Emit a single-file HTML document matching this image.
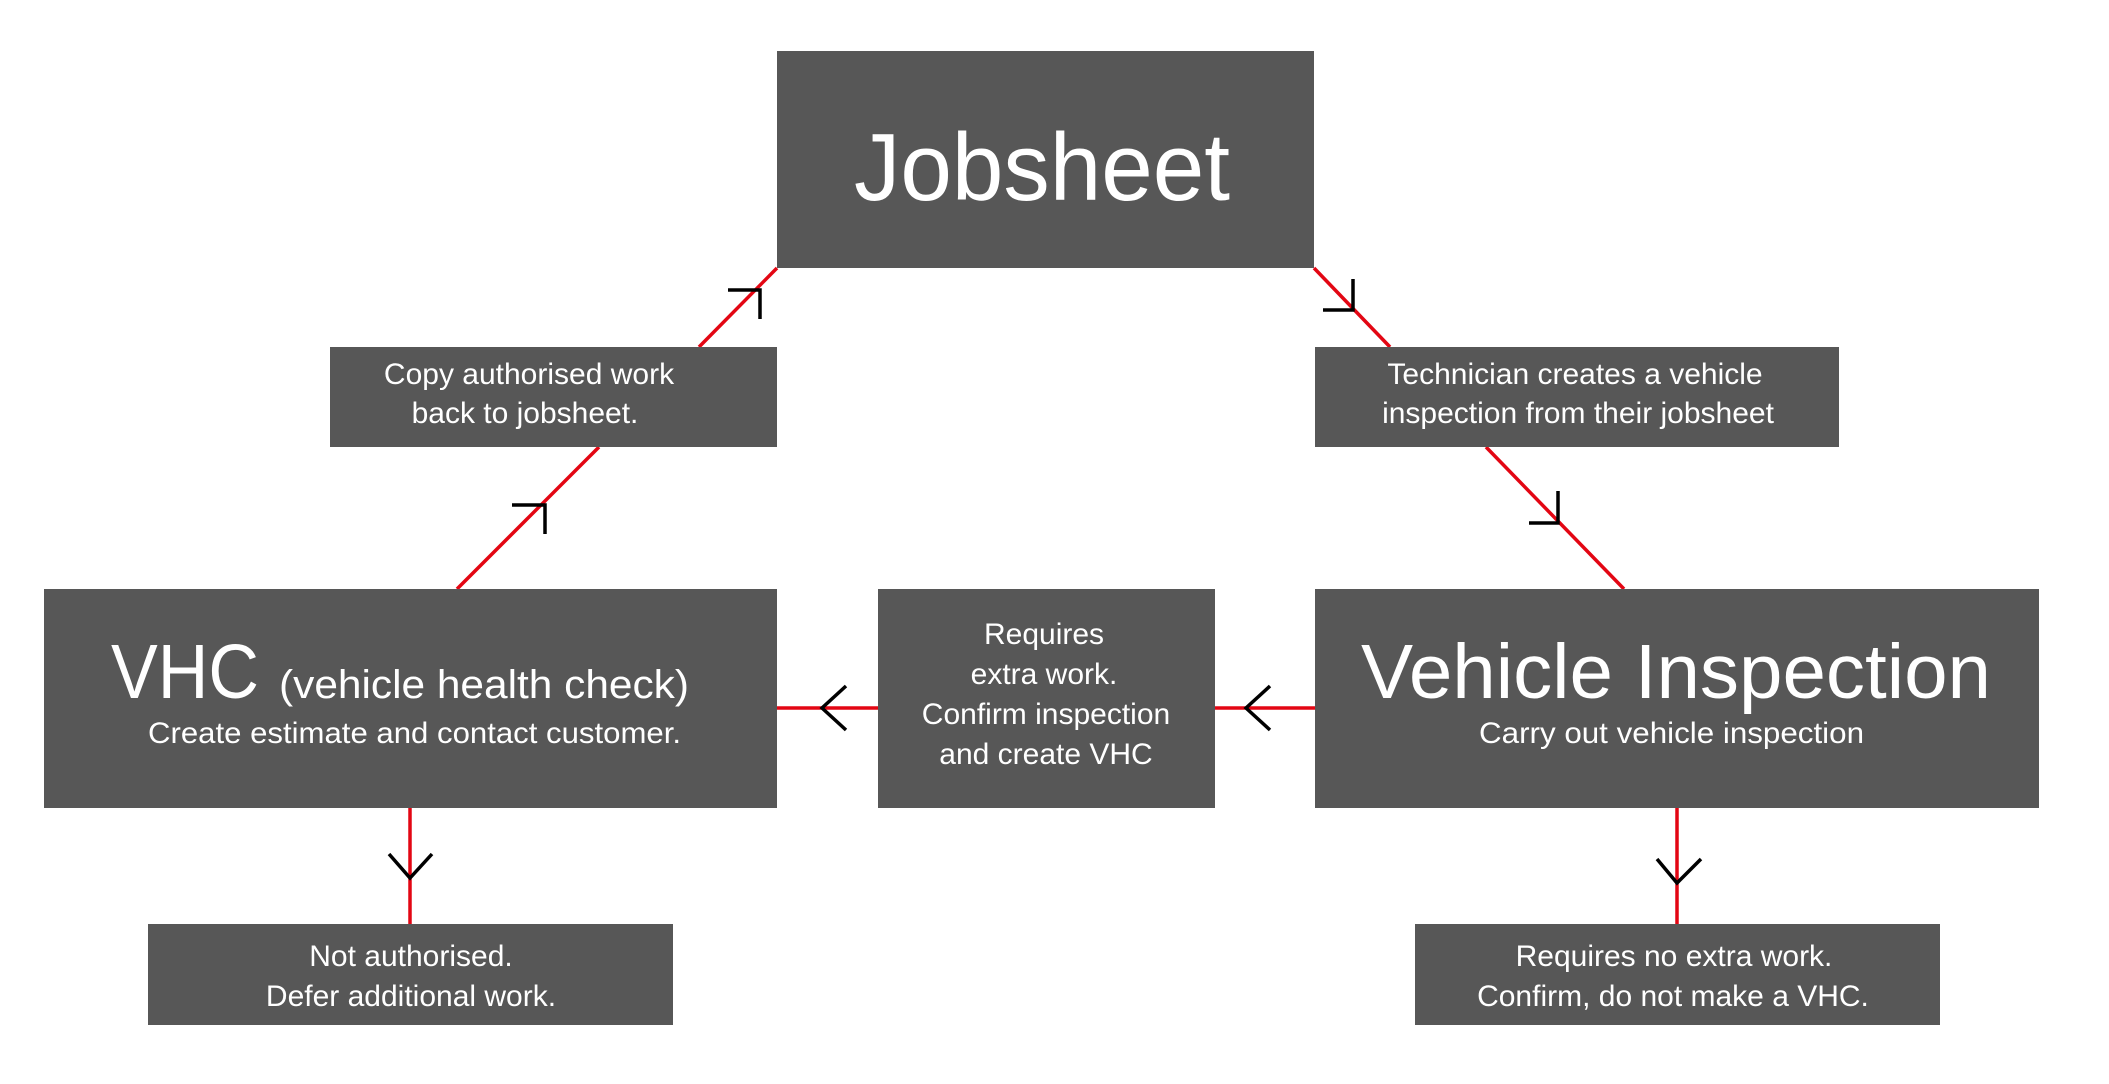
<!DOCTYPE html>
<html><head><meta charset="utf-8"><style>
html,body{margin:0;padding:0;background:#fff;}
svg{display:block;}
text{font-family:"Liberation Sans",sans-serif;fill:#fff;}
</style></head><body>
<svg width="2109" height="1084" viewBox="0 0 2109 1084" xmlns="http://www.w3.org/2000/svg">
<g stroke="#e30613" stroke-width="3.5" fill="none">
<line x1="777" y1="268" x2="699" y2="347"/>
<line x1="599" y1="447" x2="457" y2="589"/>
<line x1="1314" y1="268" x2="1390" y2="347"/>
<line x1="1486" y1="447" x2="1624" y2="589"/>
<line x1="1315" y1="708" x2="1215" y2="708"/>
<line x1="878" y1="708" x2="777" y2="708"/>
<line x1="410" y1="808" x2="410" y2="924"/>
<line x1="1677" y1="808" x2="1677" y2="924"/>
</g>
<g stroke="#000" stroke-width="3.5" fill="none">
<polyline points="728,290 760,290 760,319"/>
<polyline points="512,505 545,505 545,534"/>
<polyline points="1353,279 1353,310 1323,310"/>
<polyline points="1558,491 1558,523 1529,523"/>
<polyline points="1270,686 1246,708 1270,730"/>
<polyline points="846,686 822,708 846,730"/>
<polyline points="389,854 410,878 432,854"/>
<polyline points="1657,859 1677,883 1701,859"/>
</g>
<g fill="#575757">
<rect x="777" y="51" width="537" height="217"/>
<rect x="330" y="347" width="447" height="100"/>
<rect x="1315" y="347" width="524" height="100"/>
<rect x="44" y="589" width="733" height="219"/>
<rect x="878" y="589" width="337" height="219"/>
<rect x="1315" y="589" width="724" height="219"/>
<rect x="148" y="924" width="525" height="101"/>
<rect x="1415" y="924" width="525" height="101"/>
</g>
<text x="854" y="200" font-size="96" textLength="376" lengthAdjust="spacingAndGlyphs">Jobsheet</text>
<g font-size="30" text-anchor="middle">
<text x="529" y="384">Copy authorised work</text>
<text x="525" y="423">back to jobsheet.</text>
<text x="1575" y="384">Technician creates a vehicle</text>
<text x="1578" y="423">inspection from their jobsheet</text>
<text x="1044" y="644">Requires</text>
<text x="1044" y="684">extra work.</text>
<text x="1046" y="724">Confirm inspection</text>
<text x="1046" y="764">and create VHC</text>
<text x="411" y="966">Not authorised.</text>
<text x="411" y="1006">Defer additional work.</text>
<text x="1674" y="966">Requires no extra work.</text>
<text x="1673" y="1006">Confirm, do not make a VHC.</text>
</g>
<text x="111" y="698" font-size="77" textLength="148" lengthAdjust="spacingAndGlyphs">VHC</text>
<text x="279" y="698" font-size="40" textLength="410" lengthAdjust="spacingAndGlyphs">(vehicle health check)</text>
<text x="148" y="743" font-size="30" textLength="533" lengthAdjust="spacingAndGlyphs">Create estimate and contact customer.</text>
<text x="1361" y="698" font-size="77" textLength="630" lengthAdjust="spacingAndGlyphs">Vehicle Inspection</text>
<text x="1479" y="743" font-size="30" textLength="385" lengthAdjust="spacingAndGlyphs">Carry out vehicle inspection</text>
</svg>
</body></html>
